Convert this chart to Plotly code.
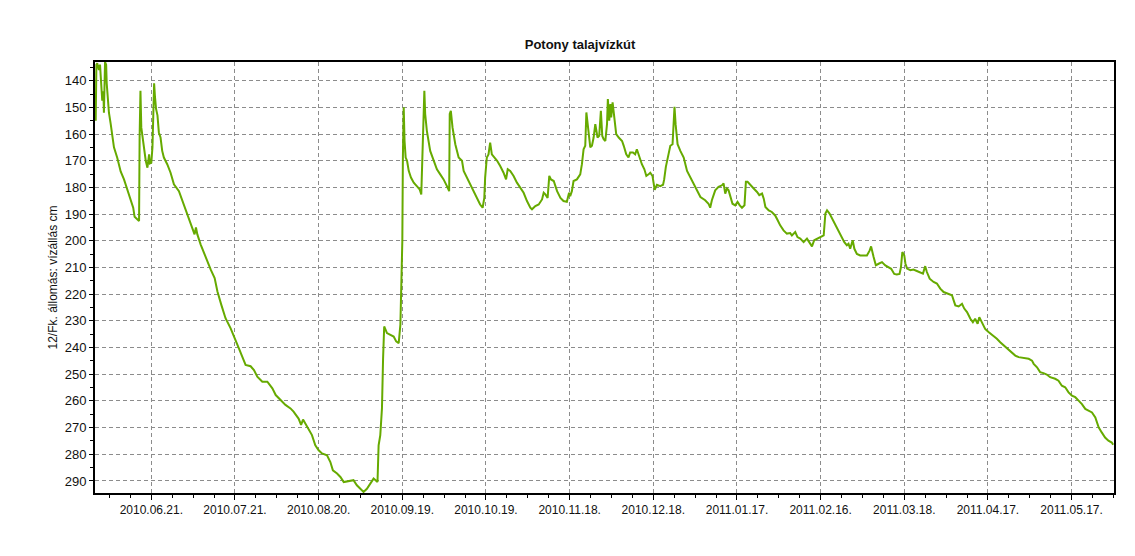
import pandas as pd
import plotly.graph_objects as go

# Record start and day offsets of the readings
start_date = "2010-06-01"
day_offsets = [
    0.05, 0.3, 0.6, 1.2, 1.6, 2.1, 2.4, 2.8, 3.0, 3.4, 3.8, 4.0, 4.5, 4.8, 5.4, 6.0, 6.6, 7.8, 9.0,
    10.2, 11.4, 12.6, 13.5, 14.0, 15.6, 15.8, 16.1, 16.4, 16.8, 17.4, 18.0, 18.6, 19.2, 19.5, 20.0,
    20.4, 20.7, 21.0, 21.3, 21.7, 22.2, 22.7, 23.3, 23.9, 24.5, 25.7, 26.9, 28.1, 29.9, 31.1, 32.9,
    34.7, 35.5, 36.0, 36.5, 37.7, 39.5, 41.3, 42.7, 43.7, 45.1, 46.6, 48.4, 50.0, 51.4, 52.6, 53.8,
    55.6, 56.8, 58.0, 59.8, 61.6, 63.4, 64.6, 66.4, 68.1, 69.9,
    71.0, 72.8, 73.7, 74.4, 75.2, 76.4, 77.6, 78.8, 80.0, 81.2, 83.0, 84.2, 85.1, 86.6, 87.8, 89.0,
    90.8, 92.5, 93.7, 94.9, 96.1, 97.3, 98.5, 99.7, 101.1, 101.5, 102.1, 102.7, 103.1, 103.5, 104.5,
    105.7, 106.9, 107.8, 108.7, 109.3, 109.6, 110.0, 110.2, 110.5, 110.8, 111.2, 111.7, 112.3, 113.1,
    114.1, 115.2, 116.2, 116.8, 117.3, 117.6, 117.9, 118.2, 118.8, 120.0, 121.2, 122.4, 123.6, 124.8,
    126.0, 126.8, 127.0, 127.4, 128.0, 129.0, 130.2, 131.4, 132.0, 133.2, 134.4, 135.6, 136.8, 137.9,
    138.8, 139.4, 139.7, 140.3, 140.9, 141.5, 142.1, 143.0,
    144.0, 145.1, 146.3, 147.2, 147.8, 148.7, 149.9, 151.1, 152.3, 153.5, 154.7, 155.9, 156.5, 157.7,
    158.9, 160.1, 160.7, 161.3, 162.1, 162.7, 163.3, 164.3, 164.9, 165.5, 166.7, 167.8, 169.0, 169.8,
    170.2, 170.8, 171.4, 172.6, 173.8, 174.4, 175.0, 175.6, 176.0, 176.5, 176.9, 177.4, 178.0, 178.6,
    179.2, 179.6, 180.0, 180.6, 181.2, 181.7, 182.2, 182.8, 183.4, 183.7, 184.2, 184.6, 184.9, 185.4,
    186.0, 186.7, 187.6, 188.8, 189.4, 190.3, 191.1, 191.7, 192.7, 193.5, 194.1, 195.0, 195.9, 196.8,
    197.5, 198.3, 198.9, 199.7, 200.5, 201.3, 202.5, 203.5, 203.9, 204.5, 205.2, 206.1, 206.9, 207.3,
    207.6, 208.0, 208.7, 209.7, 210.9, 212.1, 213.3,
    214.5, 215.7, 216.9, 218.6, 219.8, 220.4, 221.0, 222.2, 223.4, 224.6, 225.2, 225.8, 226.4, 227.0,
    227.6, 228.4, 229.4, 230.2, 231.0, 231.8, 232.7, 233.2, 233.8, 234.8, 236.0, 237.2, 238.0, 239.0,
    239.6, 240.2, 241.4, 242.5, 243.7, 244.6, 245.5, 246.7, 247.9, 249.1, 249.7, 250.9, 251.7, 252.7,
    253.9, 255.1, 256.0, 256.9, 257.7, 258.7, 259.9, 261.1, 261.7, 262.3, 263.2, 264.1, 264.9, 265.8,
    266.7, 267.6, 268.5, 269.4, 270.0, 270.6, 271.5, 272.1, 273.0, 274.2, 275.4, 276.6, 277.6, 278.1,
    279.0, 279.8, 280.8, 282.0, 283.2, 284.4, 285.3, 286.4, 287.3, 288.3, 288.8, 289.3, 290.0,
    290.4, 291.0, 292.2, 293.3, 294.5, 295.7, 296.7, 297.5, 298.1, 299.1, 300.5, 301.7, 302.9, 304.1,
    305.9, 307.1, 307.7, 308.3, 309.5, 310.7, 311.5, 312.5, 313.7, 314.6, 315.4, 316.3, 316.9, 317.8,
    319.0, 320.2, 322.0, 323.2, 324.4, 326.2, 327.4, 328.6, 329.8, 331.0, 332.8, 334.6, 335.8, 336.4,
    337.6, 338.7, 339.9, 341.1, 342.3, 344.1, 345.3, 346.5, 347.7, 348.9, 350.1, 351.3, 352.5, 353.7,
    354.9, 356.1, 357.3, 358.5, 359.7, 360.8, 362.0, 363.2, 364.4, 364.9,
]
water_level_cm = [
    155, 134, 133.5, 136, 134, 143, 147.5, 144, 152, 133, 134, 141, 148, 152, 156, 160, 165, 169, 174,
    177, 181, 185, 187.6, 191, 192.6, 161, 143.8, 157.5, 161, 166, 170, 172.6, 167.6, 171, 170.7,
    165, 150, 141, 146, 150.6, 153, 159.4, 161.3, 166.3, 168.8, 171.3, 174.5, 178.8, 181.4, 185, 190,
    195, 197.6, 195, 197.6, 201.4, 206.4, 210.8, 214, 219, 224, 229, 232.7, 236.5, 240.3, 243.4, 246.5,
    247, 248.4, 250.9, 252.8, 252.8, 255.3, 257.8, 259.6, 261.5, 262.8,
    264, 266.6, 269, 267, 268.4, 270.3, 272.8, 276.6, 278.5, 279.7, 280.4, 282.9, 286, 287.2, 288.5, 290.4,
    290.1, 289.7, 291.6, 292.9, 294.1, 292.9, 291, 289.1, 290.4, 276.6, 272.8, 262.8, 244, 232.1, 234.6,
    235.2, 235.9, 237.7, 238.4, 231.5, 219, 200.2, 168.8, 150, 162.6, 168.8, 170, 173.8, 176.3,
    178.2, 179.5, 180.7, 182.6, 166.3, 153.8, 143.8, 152.5, 158.8, 166.3, 170, 173.2, 175.1, 177,
    179.5, 181.4, 152.5, 151.3, 157.5, 163.8, 168.8, 170, 173.8, 176.3, 178.8, 181.4, 183.9, 186.4,
    187.6, 183.9, 176.3, 168.8, 167.6, 163.2, 167.6, 168.8,
    170, 172, 174.5, 177, 173.2, 173.8, 175.7, 178.2, 180.1, 182, 185.1, 187.6, 188.2, 187,
    186.4, 184.5, 182, 182.6, 183.9, 175.7, 177, 177.6, 179.5, 181.4, 183.9, 185.1, 185.4, 182,
    183.3, 181.4, 177.6, 177, 175.1, 171.3, 165.7, 164.4, 151.9, 156.3, 161.9, 165, 164.4, 161.3,
    156.3, 160, 161.3, 160.7, 151.3, 160.7, 161.9, 162.6, 156.3, 146.9, 155, 148.8, 153.8, 148.1,
    155, 160, 161.3, 162.6, 164.4, 167.6, 168.8, 166.9, 166.9, 167.6, 165.7, 168.8, 171.3, 173.2,
    175.7, 175.1, 174.5, 175.7, 180.9, 179, 179.5, 179, 177, 172.3, 168.2, 164.4, 163.8, 156.3,
    149.8, 156.3, 163.8, 166.3, 168.8, 173.8, 176.3,
    179.2, 181.7, 183.6, 184.8, 186.1, 187.6, 184.8, 181.1, 179.8, 179.2, 178.5, 182.3, 180.4, 181.1,
    182.9, 186.1, 186.7, 185.4, 186.7, 187.6, 186.7, 177.9, 177.9, 179.2, 180.4, 181.7, 182.9, 182.3,
    184.2, 187.3, 188.6, 189.2, 190.5, 192.3, 194.2, 196.1, 197.3, 197.1, 198, 196.7, 198.6, 199.2,
    200.5, 199.2, 200.5, 202.1, 199.8, 199.2, 198.6, 198, 189.8, 188.6, 189.8, 191.7, 193, 194.8,
    197.3, 199.2, 200.5, 201.7, 201.1, 203, 199.8, 203, 204.9, 205.5, 205.5, 205.5, 203.6, 202.1,
    206.1, 209.2, 208.6, 208, 209.2, 209.9, 210.5, 212.4, 212.6, 212.4, 209.9, 204.2, 205.5,
    208.5, 210.4, 211, 210.8, 211.3, 211.7, 212.3, 209.5, 211.7, 214.2, 215.4, 216, 217.9, 219.2,
    219.8, 220.4, 222.3, 224.2, 224.6, 223.6, 225.4, 226.7, 229.2, 230.5, 229.2, 231.1, 228.6, 230.5,
    233, 234.2, 235.5, 236.7, 238, 239.6, 240.5, 241.7, 243, 243.6, 243.9, 244.2, 244.9, 246.1,
    247.4, 249.2, 249.6, 250.1, 251.1, 251.7, 252.4, 254.3, 254.9, 256.8, 258, 258.6, 259.9, 261.2,
    263, 263.7, 264.3, 266.2, 269.9, 271.8, 273.7, 274.9, 275.6, 276.4,
]

tick_dates = ["2010-06-21", "2010-07-21", "2010-08-20", "2010-09-19", "2010-10-19", "2010-11-18",
              "2010-12-18", "2011-01-17", "2011-02-16", "2011-03-18", "2011-04-17", "2011-05-17"]
tick_labels = ["2010.06.21.", "2010.07.21.", "2010.08.20.", "2010.09.19.", "2010.10.19.", "2010.11.18.",
               "2010.12.18.", "2011.01.17.", "2011.02.16.", "2011.03.18.", "2011.04.17.", "2011.05.17."]

x_range_days = [-0.2, 365.2]
y_range = [294.5, 133.0]

t0 = pd.Timestamp(start_date)
dates = [t0 + pd.Timedelta(days=d) for d in day_offsets]
x_range = [t0 + pd.Timedelta(days=d) for d in x_range_days]

font_family = "Liberation Sans, Arial, sans-serif"

fig = go.Figure()
fig.add_trace(go.Scatter(
    x=dates, y=water_level_cm, mode="lines",
    line=dict(color="#66aa00", width=2),
    showlegend=False,
))

# page body adds an 8px offset, so margins are compensated
fig.update_layout(
    width=1135, height=556,
    paper_bgcolor="white", plot_bgcolor="white",
    margin=dict(l=87, r=29, t=54, b=71),
    font=dict(family=font_family, size=12, color="#111111"),
    title=dict(text="<b>Potony talajvízkút</b>", x=572 / 1135, xanchor="center",
               y=1 - 36 / 556, yanchor="middle", yref="container",
               font=dict(family=font_family, size=13, color="#111111")),
)

fig.update_xaxes(
    type="date", range=x_range,
    tickmode="array", tickvals=tick_dates, ticktext=tick_labels,
    ticks="outside", ticklen=5, tickwidth=1, tickcolor="#000000",
    showline=True, linecolor="#000000", linewidth=2, mirror=True,
    showgrid=True, gridcolor="#8c8c8c", gridwidth=1, griddash="4px,3px",
    zeroline=False,
    tickfont=dict(size=12, color="#111111"),
    minor=dict(tick0="2010-06-21", dtick=7.5 * 86400000, ticks="outside", ticklen=3,
               tickcolor="#000000", showgrid=False),
)
fig.update_yaxes(
    range=y_range, tickmode="linear", tick0=140, dtick=10,
    ticks="outside", ticklen=4, tickwidth=1, tickcolor="#000000",
    showline=True, linecolor="#000000", linewidth=2, mirror=True,
    showgrid=True, gridcolor="#8c8c8c", gridwidth=1, griddash="4px,3px",
    zeroline=False,
    tickfont=dict(size=13, color="#111111"),
    title=dict(text="12/Fk. állomás: vízállás cm", font=dict(size=12, color="#111111"), standoff=4),
    minor=dict(dtick=5, ticks="outside", ticklen=3, tickcolor="#000000", showgrid=False),
)

fig.write_html("out.html")
